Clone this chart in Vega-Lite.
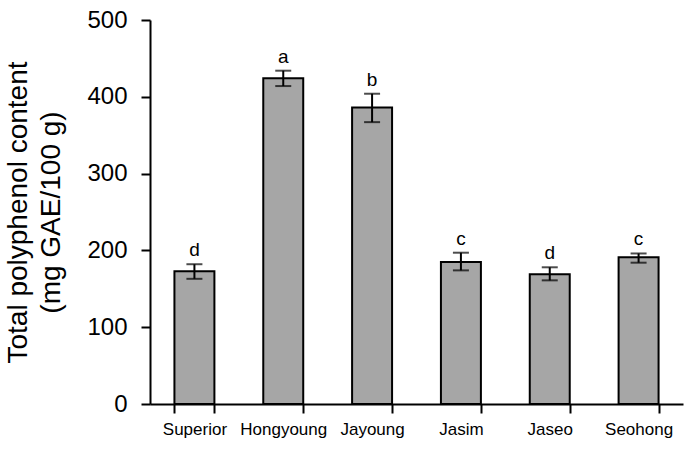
{
  "$schema": "https://vega.github.io/schema/vega-lite/v6.json",
  "width": 533,
  "height": 384,
  "autosize": {"type": "none"},
  "padding": {"left": 150, "top": 20, "right": 11, "bottom": 45},
  "background": "white",
  "config": {
    "view": {"stroke": null},
    "font": "Liberation Sans",
    "axis": {"grid": false, "domainColor": "black", "tickColor": "black", "labelColor": "black", "titleColor": "black", "domainWidth": 2, "tickWidth": 2, "tickSize": 9}
  },
  "data": {
    "values": [
      {"cultivar": "Superior", "mean": 173, "lo": 163, "hi": 182, "group": "d"},
      {"cultivar": "Hongyoung", "mean": 424, "lo": 414, "hi": 434, "group": "a"},
      {"cultivar": "Jayoung", "mean": 386, "lo": 367, "hi": 404, "group": "b"},
      {"cultivar": "Jasim", "mean": 185, "lo": 174, "hi": 197, "group": "c"},
      {"cultivar": "Jaseo", "mean": 169, "lo": 161, "hi": 178, "group": "d"},
      {"cultivar": "Seohong", "mean": 191, "lo": 184, "hi": 196, "group": "c"}
    ]
  },
  "encoding": {
    "x": {
      "field": "cultivar",
      "type": "nominal",
      "sort": null,
      "scale": {"paddingInner": 0.55, "paddingOuter": 0.275},
      "axis": {"title": null, "labelAngle": 0, "labelFontSize": 17, "labelPadding": 8, "tickBand": "extent", "labelFont": "Liberation Sans"}
    }
  },
  "layer": [
    {
      "mark": {"type": "bar", "fill": "#a6a6a6", "stroke": "black", "strokeWidth": 2},
      "encoding": {
        "y": {
          "field": "mean",
          "type": "quantitative",
          "scale": {"domain": [0, 500], "nice": false},
          "axis": {
            "values": [0, 100, 200, 300, 400, 500],
            "labelFontSize": 24,
            "labelPadding": 14,
            "title": ["Total polyphenol content", "(mg GAE/100 g)"],
            "titleFontSize": 28,
            "titleFontWeight": "normal",
            "titleLineHeight": 33,
            "titlePadding": 21
          }
        }
      }
    },
    {
      "mark": {"type": "rule", "color": "black", "strokeWidth": 2},
      "encoding": {
        "y": {"field": "lo", "type": "quantitative"},
        "y2": {"field": "hi"}
      }
    },
    {
      "mark": {"type": "tick", "color": "black", "size": 16, "thickness": 2},
      "encoding": {"y": {"field": "lo", "type": "quantitative"}}
    },
    {
      "mark": {"type": "tick", "color": "black", "size": 16, "thickness": 2},
      "encoding": {"y": {"field": "hi", "type": "quantitative"}}
    },
    {
      "mark": {"type": "text", "fontSize": 19, "baseline": "alphabetic", "dy": -8, "color": "black"},
      "encoding": {
        "y": {"field": "hi", "type": "quantitative"},
        "text": {"field": "group"}
      }
    }
  ]
}
